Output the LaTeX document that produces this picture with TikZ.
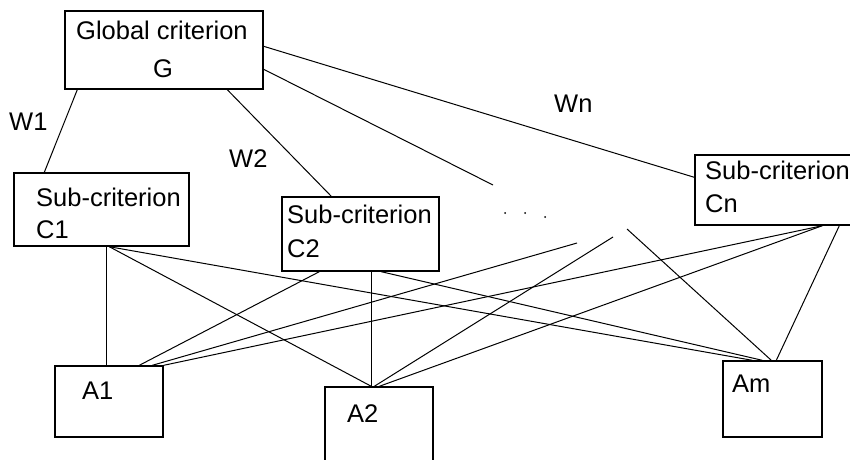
\documentclass[tikz,border=0pt]{standalone}
\usepackage{fontspec}
\setmainfont{Liberation Sans}
\usetikzlibrary{calc}
\begin{document}
\begin{tikzpicture}[x=1pt,y=-1pt,
  box/.style={draw, line width=1.4pt, inner sep=0pt, minimum width=#1},
  lbl/.style={inner sep=0pt, anchor=base west, font=\fontsize{25.5}{30}\selectfont},
  conn/.style={line width=1pt},
  dotmark/.style={fill, circle, inner sep=0pt, minimum size=2pt}]
\useasboundingbox (0,0) rectangle (850,459);
\clip (0,0) rectangle (850,459);
\fill[white] (0,0) rectangle (850,459);
% boxes
\node[box=198pt, minimum height=78pt] (G)  at (164,50) {};
\node[box=175pt, minimum height=73pt] (C1) at (101.5,209.5) {};
\node[box=157pt, minimum height=74pt] (C2) at (360.5,234) {};
\node[box=175pt, minimum height=70pt] (Cn) at (782.5,190) {};
\node[box=108pt, minimum height=71pt] (A1) at (109,401.5) {};
\node[box=108pt, minimum height=100pt] (A2) at (379,437) {};
\node[box=99pt, minimum height=76pt] (Am) at (772.5,399) {};
% texts
\node[lbl] (tG1) at (76,39) {Global criterion};
\node[lbl, anchor=base] (tG2) at (163,77) {G};
\node[lbl] (tC1a) at (36,206) {Sub-criterion};
\node[lbl] (tC1b) at (36,238) {C1};
\node[lbl] (tC2a) at (287,223) {Sub-criterion};
\node[lbl] (tC2b) at (287,257) {C2};
\node[lbl] (tCna) at (705,179) {Sub-criterion};
\node[lbl] (tCnb) at (705,212) {Cn};
\node[lbl] (tA1) at (82,399) {A1};
\node[lbl] (tA2) at (347,422) {A2};
\node[lbl] (tAm) at (732,392) {Am};
\node[lbl] (tW1) at (9,130) {W1};
\node[lbl] (tW2) at (229,167) {W2};
\node[lbl] (tWn) at (554,112) {Wn};
% dangling ends
\coordinate (d0) at (493,185);
\coordinate (d1) at (577,243);
\coordinate (d2) at (613,237);
\coordinate (d3) at (627,229);
% dots
\node[dotmark] (p1) at (505,213) {};
\node[dotmark] (p2) at (525,213) {};
\node[dotmark] (p3) at (545,217) {};
% connectors from G
\draw[conn] ($(G.south west)+(13,0)$) -- ($(C1.north west)+(31,0)$);
\draw[conn] ($(G.south west)+(163,0)$) -- ($(C2.north west)+(50,0)$);
\draw[conn] ($(G.north east)+(0,59)$) -- (d0);
\draw[conn] ($(G.north east)+(0,36)$) -- ($(Cn.north west)+(0,23)$);
% from C1
\draw[conn] ($(C1.south west)+(93,0)$) -- ($(A1.north west)+(52,0)$);
\draw[conn] ($(C1.south west)+(96,0)$) -- ($(A2.north west)+(47,0)$);
\draw[conn] ($(C1.south west)+(96,0)$) -- ($(Am.north west)+(30,0)$);
% from C2
\draw[conn] ($(C2.south west)+(38,0)$) -- ($(A1.north west)+(85,0)$);
\draw[conn] ($(C2.south west)+(90,0)$) -- ($(A2.north west)+(47,0)$);
\draw[conn] ($(C2.south west)+(100,0)$) -- ($(Am.north west)+(40,0)$);
% dangling
\draw[conn] (d1) -- ($(A1.north west)+(98,0)$);
\draw[conn] (d2) -- ($(A2.north west)+(50,0)$);
\draw[conn] (d3) -- ($(Am.north west)+(49,0)$);
% from Cn
\draw[conn] ($(Cn.south west)+(128,0)$) -- (A1.north east);
\draw[conn] ($(Cn.south west)+(128,0)$) -- ($(A2.north west)+(55,0)$);
\draw[conn] ($(Cn.south west)+(145,0)$) -- ($(Am.north west)+(54,0)$);
\end{tikzpicture}
\end{document}
